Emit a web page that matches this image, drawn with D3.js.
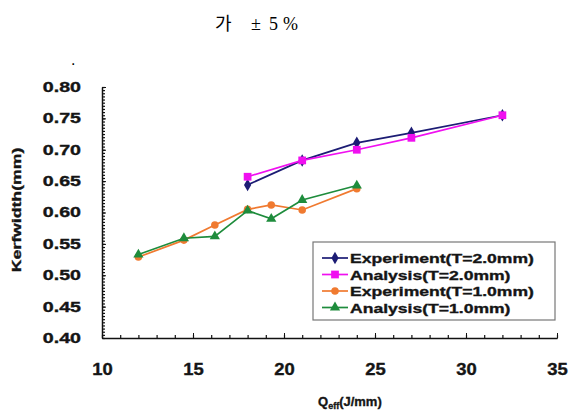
<html lang="ko">
<head>
<meta charset="UTF-8">
<title>Kerfwidth</title>
<script src="https://d3js.org/d3.v7.min.js"></script>
<style>
    body { margin: 0; background: #fff; }
    text { font-family: "Liberation Sans", Arial, sans-serif; }
    .bold { font-weight: bold; fill: #151515; stroke: #151515; stroke-width: 0.35; }
    .axis path, .axis line { stroke: #111; }
</style>
</head>
<body>
<svg width="570" height="413"></svg>
<script>
// series values
var xT2 = [18, 21, 24, 27, 32];
var expT2 = [0.644, 0.683, 0.711, 0.727, 0.755];
var anaT2 = [0.657, 0.683, 0.700, 0.719, 0.755];
var xT1 = [12, 14.5, 16.2, 18, 19.3, 21, 24];
var expT1 = [0.529, 0.556, 0.580, 0.605, 0.612, 0.604, 0.638];
var anaT1 = [0.533, 0.559, 0.562, 0.603, 0.590, 0.620, 0.643];
var seriesNames = ["Experiment(T=2.0mm)", "Analysis(T=2.0mm)", "Experiment(T=1.0mm)", "Analysis(T=1.0mm)"];
var xTicks = [10, 15, 20, 25, 30, 35];
var yTicks = [0.40, 0.45, 0.50, 0.55, 0.60, 0.65, 0.70, 0.75, 0.80];

var svg = d3.select("svg");

var x = d3.scaleLinear().domain([10, 35]).range([102, 557]);
var y = d3.scaleLinear().domain([0.40, 0.80]).range([338, 87]);

// widen bold text like the original's heavy font
function widen(sel, k) {
    sel.each(function () {
        var w = this.getComputedTextLength();
        d3.select(this).attr("textLength", w * k).attr("lengthAdjust", "spacingAndGlyphs");
    });
}

// title line
var heading = svg.append("text").attr("y", 30).style("font-size", "18px");
heading.append("tspan").attr("x", 215).style("font-family", "'Noto Sans CJK KR', sans-serif").text("가");
heading.append("tspan").attr("x", 251).style("font-family", "'Liberation Serif', serif").text("±");
heading.append("tspan").attr("x", 269).style("font-family", "'Liberation Serif', serif").text("5");
heading.append("tspan").attr("x", 283).style("font-family", "'Liberation Serif', serif").text("%");
svg.append("text").attr("x", 71).attr("y", 65).style("font-size", "16px").text(".");

// y axis: minor ticks every 0.005, labels every 0.05
svg.append("g").attr("class", "axis")
    .attr("transform", "translate(" + x(10) + ",0)")
    .call(d3.axisLeft(y).tickValues(d3.range(0, 81).map(function (i) { return 0.40 + i * 0.005; }))
        .tickSize(-3).tickSizeOuter(0).tickFormat(""))
    .selectAll("line").attr("stroke-width", 1.2);
var gy = svg.append("g").attr("class", "axis")
    .attr("transform", "translate(" + x(10) + ",0)")
    .call(d3.axisLeft(y).tickValues(yTicks).tickSize(-4).tickSizeOuter(0)
        .tickPadding(21).tickFormat(d3.format(".2f")));
gy.select(".domain").attr("stroke-width", 1.5);
gy.selectAll("text").attr("class", "bold").style("font-size", "14px").attr("font-family", null);
widen(gy.selectAll("text"), 1.4);

// x axis: minor ticks every 1, labels every 5
svg.append("g").attr("class", "axis")
    .attr("transform", "translate(0," + y(0.40) + ")")
    .call(d3.axisBottom(x).tickValues(d3.range(10, 36)).tickSize(-3).tickSizeOuter(0).tickFormat(""))
    .selectAll("line").attr("stroke-width", 1.2);
var gx = svg.append("g").attr("class", "axis")
    .attr("transform", "translate(0," + y(0.40) + ")")
    .call(d3.axisBottom(x).tickValues(xTicks).tickSize(-5).tickSizeOuter(0).tickPadding(26));
gx.select(".domain").attr("stroke-width", 1.5);
gx.selectAll("text").attr("class", "bold").style("font-size", "16px").attr("font-family", null);
widen(gx.selectAll("text"), 1.15);

// axis titles
var yt = svg.append("text").attr("class", "bold")
    .attr("transform", "translate(21,210) rotate(-90)")
    .attr("text-anchor", "middle").style("font-size", "13px")
    .text("Kerfwidth(mm)");
widen(yt, 1.36);

var xt = svg.append("text").attr("class", "bold")
    .attr("x", 318).attr("y", 406).style("font-size", "13px");
xt.append("tspan").text("Q");
xt.append("tspan").attr("dy", 3).style("font-size", "9px").text("eff");
xt.append("tspan").attr("dy", -3).text("(J/mm)");

// series
var series = [
    { name: seriesNames[0], xs: xT2, ys: expT2, color: "#1c1c74", sym: d3.symbolDiamond, size: 45 },
    { name: seriesNames[1], xs: xT2, ys: anaT2, color: "#f010f0", sym: d3.symbolSquare, size: 60 },
    { name: seriesNames[2], xs: xT1, ys: expT1, color: "#f07a30", sym: d3.symbolCircle, size: 45 },
    { name: seriesNames[3], xs: xT1, ys: anaT1, color: "#1e8c3c", sym: d3.symbolTriangle, size: 45 }
];

var line = d3.line().x(function (d) { return x(d[0]); }).y(function (d) { return y(d[1]); });

series.forEach(function (s) {
    var pts = s.xs.map(function (v, i) { return [v, s.ys[i]]; });
    svg.append("path").datum(pts)
        .attr("d", line).attr("fill", "none")
        .attr("stroke", s.color).attr("stroke-width", 1.7);
    svg.selectAll(null).data(pts).enter().append("path")
        .attr("transform", function (d) { return "translate(" + x(d[0]) + "," + y(d[1]) + ")"; })
        .attr("d", d3.symbol().type(s.sym).size(s.size))
        .attr("fill", s.color);
});

// legend
var leg = svg.append("g");
leg.append("rect").attr("x", 313).attr("y", 242).attr("width", 242).attr("height", 78)
    .attr("fill", "#fff").attr("stroke", "#777").attr("stroke-width", 1.2);
series.forEach(function (s, i) {
    var ly = 258 + i * 16.5;
    leg.append("line").attr("x1", 322).attr("x2", 348).attr("y1", ly).attr("y2", ly)
        .attr("stroke", s.color).attr("stroke-width", 1.7);
    leg.append("path").attr("transform", "translate(335," + ly + ")")
        .attr("d", d3.symbol().type(s.sym).size(s.size)).attr("fill", s.color);
    var t = leg.append("text").attr("class", "bold").attr("x", 350).attr("y", ly + 5)
        .style("font-size", "13px").text(s.name);
    widen(t, 1.35);
});
</script>
</body>
</html>
